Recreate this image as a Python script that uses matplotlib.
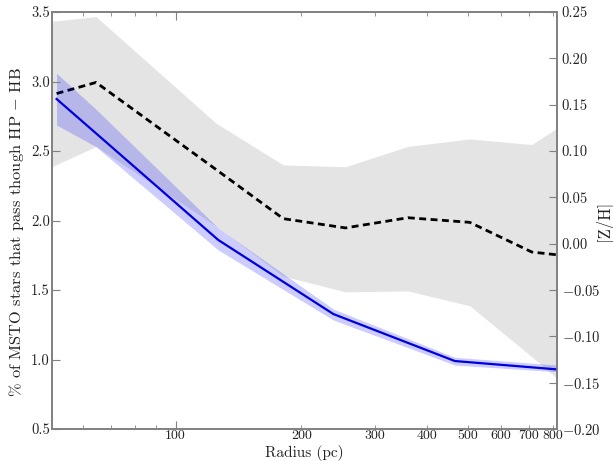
import matplotlib
matplotlib.use("Agg")
import matplotlib.pyplot as plt
from matplotlib.ticker import FixedLocator, FuncFormatter

plt.rcParams['font.family'] = 'serif'
plt.rcParams['font.serif'] = ['cmr10', 'DejaVu Serif']
plt.rcParams['mathtext.fontset'] = 'cm'
plt.rcParams['axes.formatter.use_mathtext'] = True
plt.rcParams['axes.unicode_minus'] = True

# ---- data ----
# fraction of MSTO stars passing through HP-HB (left axis)
radius_frac = [51.9, 64.5, 126.5, 238.6, 466.0, 817.0]
frac = [2.874, 2.627, 1.86, 1.327, 0.989, 0.929]
frac_hi = [3.059, 2.80, 1.946, 1.363, 1.016, 0.960]
frac_lo = [2.687, 2.531, 1.788, 1.284, 0.960, 0.912]

# [Z/H] profile (right axis)
radius_zh = [51.9, 64.5, 125.0, 181.0, 255.0, 360.0, 506.0, 712.0, 817.0]
zh = [0.162, 0.174, 0.080, 0.027, 0.017, 0.028, 0.023, -0.009, -0.012]
radius_zh_band = [50.6, 64.5, 125.0, 181.0, 255.0, 360.0, 506.0, 712.0, 817.0]
zh_hi = [0.240, 0.245, 0.130, 0.085, 0.083, 0.105, 0.113, 0.107, 0.1245]
zh_lo = [0.083, 0.105, 0.019, -0.035, -0.052, -0.051, -0.067, -0.122, -0.145]

left_ticks = [0.5, 1.0, 1.5, 2.0, 2.5, 3.0, 3.5]
right_ticks = [-0.20, -0.15, -0.10, -0.05, 0.00, 0.05, 0.10, 0.15, 0.20, 0.25]
x_major = [100]
x_minor = [60, 70, 80, 90, 200, 300, 400, 500, 600, 700, 800]
x_minor_labeled = [200, 300, 400, 500, 600, 700, 800]

spine_col = '#808080'
txt_col = '#222222'

W, H = 613, 461
L, R, T, B = 52, 556.7, 12, 429
fig = plt.figure(figsize=(W / 100, H / 100), dpi=100)
ax = fig.add_axes([L / W, (H - B) / H, (R - L) / W, (B - T) / H])
ax2 = ax.twinx()

# gray band + dashed line on the right axis
ax2.fill_between(radius_zh_band, zh_lo, zh_hi, color='#e4e4e4', lw=0)
ax2.plot(radius_zh, zh, color='black', lw=2.0, ls=(0, (2.5, 1.6)))

# blue band + line on the left axis, drawn above
ax.set_zorder(ax2.get_zorder() + 1)
ax.patch.set_visible(False)
ax.fill_between(radius_frac, frac_lo, frac_hi, color=(0, 0, 1), alpha=0.2, lw=0)
ax.plot(radius_frac, frac, color='#0000dd', lw=1.6)

ax.set_xscale('log')
ax.set_xlim(50.6, 817)
ax.set_ylim(0.5, 3.5)
ax2.set_ylim(-0.20, 0.25)

ax.xaxis.set_major_locator(FixedLocator(x_major))
ax.xaxis.set_minor_locator(FixedLocator(x_minor))
ax.xaxis.set_major_formatter(FuncFormatter(lambda v, p: '%d' % v))
ax.xaxis.set_minor_formatter(FuncFormatter(
    lambda v, p: ('%d' % round(v)) if round(v) in x_minor_labeled else ''))
ax.set_yticks(left_ticks)
ax.yaxis.set_major_formatter(FuncFormatter(lambda v, p: '%.1f' % v))
ax2.set_yticks(right_ticks)
ax2.yaxis.set_major_formatter(FuncFormatter(
    lambda v, p: (r'$-$' if v < -1e-9 else '') + '%.2f' % abs(v)))

for a in (ax, ax2):
    for s in a.spines.values():
        s.set_color(spine_col)
        s.set_linewidth(1.2)

ax.tick_params(axis='x', which='both', direction='in', top=True, bottom=True,
               colors=spine_col, labelcolor=txt_col, labelsize=10, pad=1)
ax.tick_params(axis='x', which='major', length=6, width=0.8)
ax.tick_params(axis='x', which='minor', length=3, width=0.6)
ax.tick_params(axis='y', which='both', direction='in', left=True, right=False,
               colors=spine_col, labelcolor=txt_col, labelsize=10.5, length=6,
               width=0.8, pad=1.5)
ax2.tick_params(axis='y', which='both', direction='in', right=True, left=False,
                colors=spine_col, labelcolor=txt_col, labelsize=10.5, length=6,
                width=0.8, pad=3.5)
ax2.tick_params(axis='y', which='minor', right=False)

ax.set_xlabel('Radius (pc)', fontsize=11, color=txt_col)
ax.xaxis.set_label_coords(0.5, (B - 445) / (B - T))
ax.set_ylabel(r'% of MSTO stars that pass though HP $-$ HB', fontsize=11.8,
              color=txt_col)
ax.yaxis.set_label_coords((26 - L) / (R - L), (B - 232) / (B - T))
ax2.set_ylabel('[Z/H]', fontsize=12, color=txt_col)
ax2.yaxis.set_label_coords((594 - L) / (R - L), 0.5)

fig.savefig('out.png', dpi=100)
